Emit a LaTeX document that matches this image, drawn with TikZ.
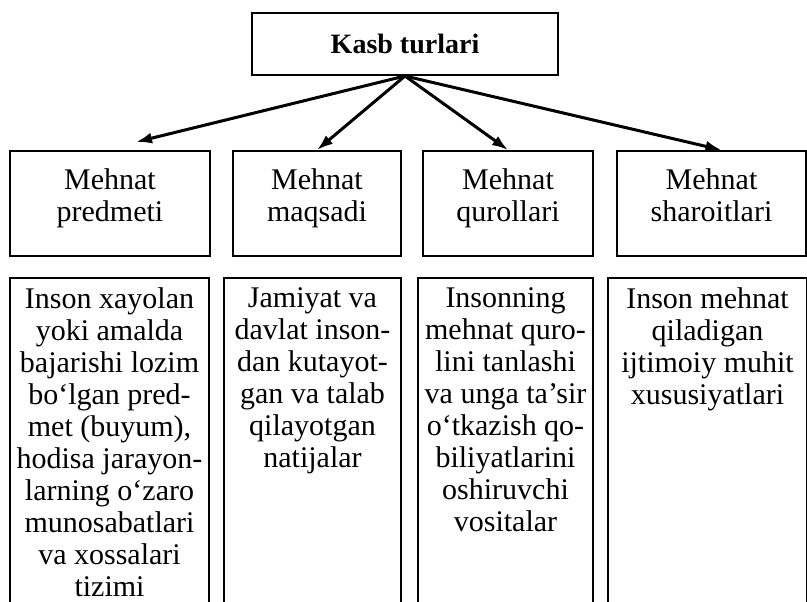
\documentclass[tikz,border=0pt]{standalone}
\usepackage{fontspec}
\setmainfont{Liberation Serif}
\usetikzlibrary{arrows.meta}
\newcommand{\celltext}[4]{\parbox[t][#2][t]{#1}{\centering\vspace*{#3}#4}}

\begin{document}
\begin{tikzpicture}[x=0.5pt, y=-0.5pt,
  box/.style={draw, line width=1pt, inner sep=0pt, anchor=north west,
    font=\fontsize{15}{16}\selectfont},
  link/.style={line width=1.5pt, -{Latex[length=8pt, width=5.5pt]}}]

	\useasboundingbox (0,0) rectangle (807,601);
	\clip (0,0) rectangle (807,601);

	\node[draw, line width=1pt, minimum width=153pt, minimum height=31pt,
	  font=\fontsize{14}{16}\selectfont\bfseries] (kasb) at (405,44) {Kasb turlari};

	% second row
	\node[box] (m1) at (9,150) {\celltext{100pt}{52.5pt}{8.8pt}{Mehnat\\predmeti}};
	\node[box] (m2) at (232,150) {\celltext{84pt}{52.5pt}{8.8pt}{Mehnat\\maqsadi}};
	\node[box] (m3) at (422,150) {\celltext{85pt}{52.5pt}{8.8pt}{Mehnat\\qurollari}};
	\node[box] (m4) at (616,150) {\celltext{94.5pt}{52.5pt}{8.8pt}{Mehnat\\sharoitlari}};

	\draw[link] (kasb.south) -- ([xshift=13pt, yshift=4pt]m1.north);
	\draw[link] (kasb.south) -- (m2.north);
	\draw[link] (kasb.south) -- (m3.north);
	\draw[link] (kasb.south) -- ([xshift=5pt]m4.north);

	% third row
	\node[box] (b1) at (9,277) {\celltext{99.5pt}{170pt}{5pt}{Inson xayolan\\yoki amalda\\bajarishi lozim\\bo‘lgan pred-\\met (buyum),\\hodisa jarayon-\\larning o‘zaro\\munosabatlari\\va xossalari\\tizimi}};
	\node[box] (b2) at (223,277) {\celltext{88.5pt}{170pt}{5pt}{Jamiyat va\\davlat inson-\\dan kutayot-\\gan va talab\\qilayotgan\\natijalar}};
	\node[box] (b3) at (417,277) {\celltext{87.5pt}{170pt}{5pt}{Insonning\\mehnat quro-\\lini tanlashi\\va unga ta’sir\\o‘tkazish qo-\\biliyatlarini\\oshiruvchi\\vositalar}};
	\node[box] (b4) at (607,277) {\celltext{99.5pt}{170pt}{5pt}{Inson mehnat\\qiladigan\\ijtimoiy muhit\\xususiyatlari}};

\end{tikzpicture}
\end{document}
